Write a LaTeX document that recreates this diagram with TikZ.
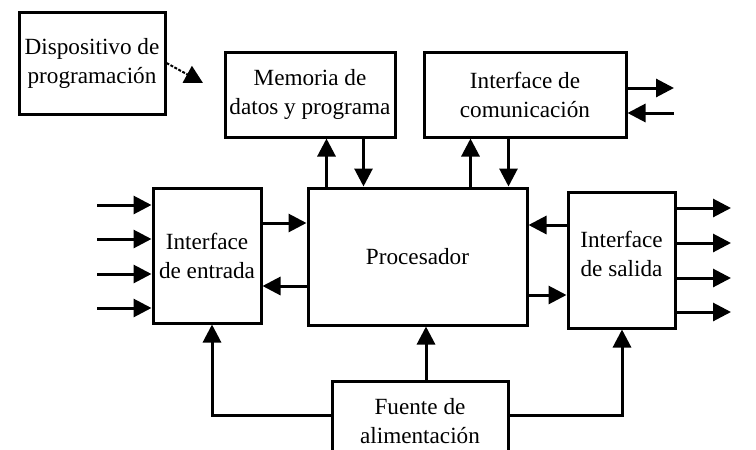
\documentclass[tikz,border=0pt]{standalone}
\usepackage{fontspec}
\setmainfont{Liberation Serif}
\usetikzlibrary{arrows.meta,positioning}

\begin{document}
\begin{tikzpicture}[x=1pt, y=-1pt,
blockbox/.style={rectangle, draw=black, line width=3pt, fill=white, align=center, inner sep=0pt, font=\fontsize{23.2}{29}\selectfont},
signal/.style={-{Triangle[length=18pt,width=18pt]}, line width=3pt}]

\clip (0,0) rectangle (756,450);

\node[blockbox, minimum width=146pt, minimum height=102pt] (disp) at (92,63) {Dispositivo de\\programación};

\node[blockbox, minimum width=170pt, minimum height=85pt] (mem) at (310,94.5) {Memoria de\\datos y programa};

\node[blockbox, minimum width=202pt, minimum height=85pt] (com) at (525,94.5) {Interface de\\comunicación};

\node[blockbox, minimum width=108pt, minimum height=135pt] (ent) at (207,255.5) {Interface\\de entrada};

\node[blockbox, minimum width=219pt, minimum height=137pt] (proc) at (417.5,256.5) {Procesador};

\node[blockbox, minimum width=107pt, minimum height=136pt] (sal) at (621.5,260) {Interface\\de salida\\[-16pt]};

\node[blockbox, minimum width=176pt, minimum height=80pt] (fte) at (420,421) {Fuente de\\alimentación};

% programacion
\coordinate (prg) at (203,83);
\draw[-{Triangle[length=18pt,width=19pt]}, line width=2pt, dash pattern=on 3pt off 1.5pt] (disp.east) -- (prg);

% memoria y comunicacion
\draw[signal] ([xshift=20pt]proc.north west) -- ([xshift=103pt]mem.south west);
\draw[signal] ([xshift=140pt]mem.south west) -- ([xshift=57pt]proc.north west);
\draw[signal] ([xshift=164pt]proc.north west) -- ([xshift=48pt]com.south west);
\draw[signal] ([xshift=86pt]com.south west) -- ([xshift=202pt]proc.north west);

\coordinate (tx) at (674,88);
\coordinate (rx) at (674,113);
\draw[signal] (tx -| com.east) -- (tx);
\draw[signal] (rx) -- (rx -| com.east);

% entradas y salidas
\foreach \y [count=\i] in {205,239,274,308} {
  \coordinate (in\i) at (97,\y);
  \draw[signal] (in\i) -- (in\i -| ent.west);
}
\foreach \y [count=\i] in {208,243,278,312} {
  \coordinate (out\i) at (731,\y);
  \draw[signal] (out\i -| sal.east) -- (out\i);
}

\draw[signal] ([yshift=32.5pt]ent.east) -- ([yshift=33.5pt]proc.west);
\draw[signal] ([yshift=-29.5pt]proc.west) -- ([yshift=-30.5pt]ent.east);
\draw[signal] ([yshift=35pt]sal.west) -- ([yshift=31.5pt]proc.east);
\draw[signal] ([yshift=-38.5pt]proc.east) -- ([yshift=-35pt]sal.west);

% alimentacion
\draw[signal] ([xshift=6pt]fte.north) -- ([xshift=8.5pt]proc.south);
\draw[signal] ([yshift=6pt]fte.west) -| ([xshift=5pt]ent.south);
\draw[signal] ([yshift=6pt]fte.east) -| ([xshift=0.5pt]sal.south);

\end{tikzpicture}
\end{document}
